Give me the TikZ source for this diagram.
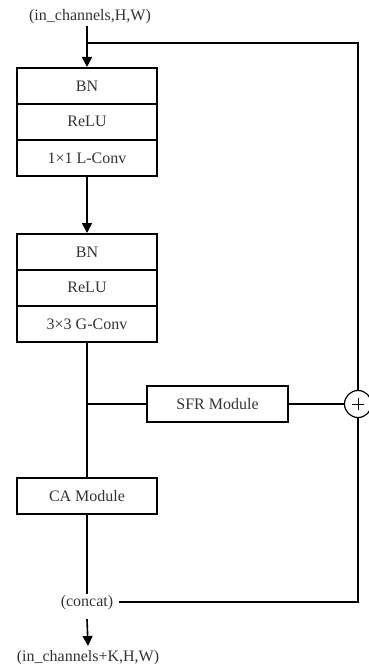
\documentclass[tikz,border=0pt]{standalone}
\usepackage{fontspec}
\setmainfont{Liberation Serif}
\usetikzlibrary{arrows.meta}
\begin{document}
\begin{tikzpicture}[x=1pt,y=-1pt,line width=1.6pt,
  layer/.style={draw, line width=1.6pt, minimum width=140pt, minimum height=36pt,
    inner sep=0pt, anchor=north, text=black!80, font=\fontsize{16}{18}\selectfont},
  lbl/.style={inner sep=1pt, text=black!80, font=\fontsize{16}{18}\selectfont},
  arr/.style={-{Triangle[width=10pt,length=10pt]}},
  sumnode/.style={draw, circle, line width=1.2pt, minimum size=27pt, inner sep=0pt, fill=white}]
\useasboundingbox (0,0) rectangle (369,669);
\clip (0,0) rectangle (369,669);

\node[lbl] (in) at (90,17) {(in\_channels,H,W)};
\coordinate (j1) at (87,43);
\coordinate (tr) at (358,43);

\node[layer] (bn1) at (87,67) {BN};
\node[layer] (re1) at (87,103) {ReLU};
\node[layer] (cv1) at (87,139) {1×1 L-Conv};

\node[layer] (bn2) at (87,233) {BN};
\node[layer] (re2) at (87,269) {ReLU};
\node[layer] (cv2) at (87,305) {3×3 G-Conv};

\coordinate (j2) at (87,404);
\node[layer, anchor=center, minimum width=141pt] (sfr) at (217.5,404) {SFR Module};
\node[sumnode] (plus) at (358,404) {};
\draw[line width=0.8pt] ([xshift=-6pt]plus.center) -- ([xshift=6pt]plus.center)
  ([yshift=-6pt]plus.center) -- ([yshift=6pt]plus.center);

\node[layer] (ca) at (87,477) {CA Module};

\node[lbl] (concat) at (87,603) {(concat)};
\node[lbl] (out) at (88,658) {(in\_channels+K,H,W)};
\coordinate (br) at (358,602);

\draw[arr] (in.south -| j1) -- (bn1.north);
\draw (j1) -- (tr) -- (plus.north);
\draw[arr] (cv1.south) -- (bn2.north);
\draw (cv2.south) -- (ca.north);
\draw (j2) -- (sfr.west);
\draw (sfr.east) -- (plus.west);
\draw (plus.south) -- (br) -- ([xshift=4pt]br -| concat.east);
\draw (ca.south) -- (concat.north);
\draw[arr] ([yshift=-7pt]concat.south) -- ([yshift=3pt]out.north);
\end{tikzpicture}
\end{document}
